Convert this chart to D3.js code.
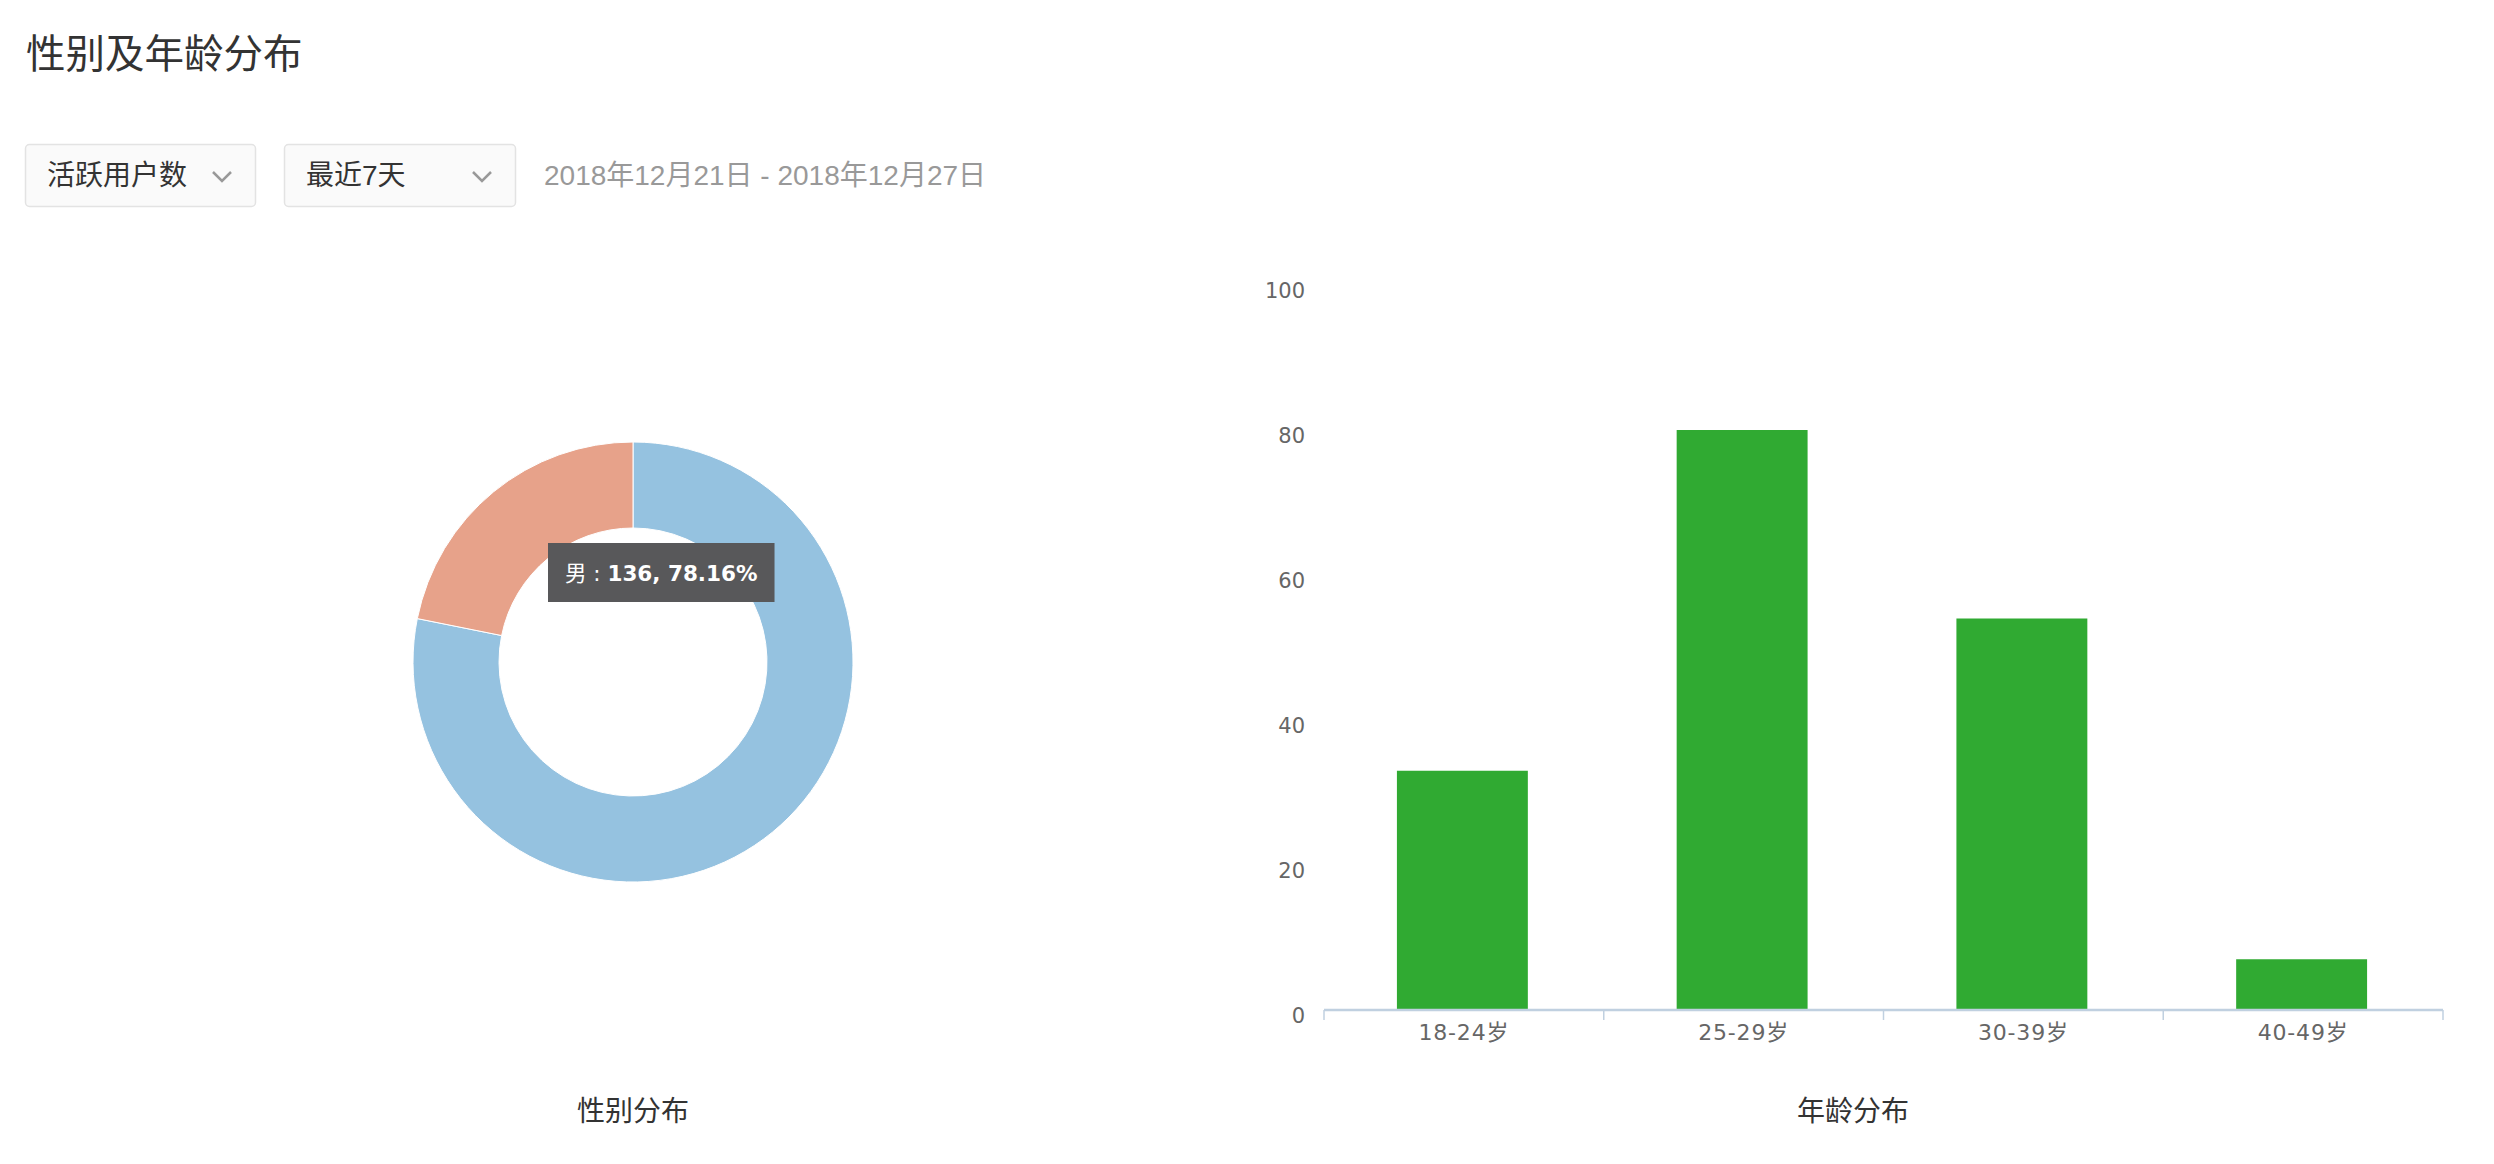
<!DOCTYPE html>
<html>
<head>
<meta charset="utf-8">
<script src="https://cdn.jsdelivr.net/npm/d3@7"></script>
<style>
  html, body { margin: 0; padding: 0; background: #ffffff; }
  svg { display: block; }
</style>
</head>
<body>
<svg id="chart" width="2494" height="1164"></svg>
<script>
// ---- data ----
const pageTitle = "性别及年龄分布";
const metricOptions = ["活跃用户数"];
const periodOptions = ["最近7天"];
const dateRange = "2018年12月21日 - 2018年12月27日";

const genderCategories = ["男", "女"];
const genderValues = [136, 38];
const genderTitle = "性别分布";

const ageCategories = ["18-24岁", "25-29岁", "30-39岁", "40-49岁"];
const ageValues = [33, 80, 54, 7];
const ageTicks = [0, 20, 40, 60, 80, 100];
const ageTitle = "年龄分布";

// ---- setup ----
const svg = d3.select("#chart");
const cjk = "'Noto Sans CJK SC', 'Noto Sans', sans-serif";
const latinCjk = "'Liberation Sans', 'Noto Sans CJK SC', sans-serif";
const axisFont = "'DejaVu Sans', 'Noto Sans CJK SC', sans-serif";

// header
svg.append("text")
  .attr("x", 26).attr("y", 50)
  .attr("dominant-baseline", "central")
  .attr("font-family", cjk).attr("font-size", 39.5)
  .attr("fill", "#333")
  .text(pageTitle);

function dropdown(x, w, label) {
  const g = svg.append("g").attr("transform", `translate(${x},144)`);
  g.append("rect").attr("x", 0.5).attr("y", 0.5).attr("width", w).attr("height", 62)
    .attr("rx", 4).attr("fill", "#fafafa").attr("stroke", "#e3e3e3").attr("stroke-width", 1.5);
  g.append("text").attr("x", 22).attr("y", 31).attr("dominant-baseline", "central")
    .attr("font-family", latinCjk).attr("font-size", 28).attr("fill", "#333").text(label);
  g.append("path").attr("d", `M${w - 42},${28} L${w - 33},${37} L${w - 24},${28}`)
    .attr("fill", "none").attr("stroke", "#999").attr("stroke-width", 2.5);
}
dropdown(25, 230, metricOptions[0]);
dropdown(284, 231, periodOptions[0]);

svg.append("text")
  .attr("x", 544).attr("y", 175)
  .attr("dominant-baseline", "central")
  .attr("font-family", latinCjk).attr("font-size", 28)
  .attr("fill", "#999")
  .text(dateRange);

// ---- donut ----
const pieCx = 633, pieCy = 662, outerR = 220, innerR = 134;
const pieColors = d3.scaleOrdinal().domain(genderCategories).range(["#95c2e0", "#e7a28a"]);
const pie = d3.pie().sort(null).value(d => d.v).startAngle(0).endAngle(2 * Math.PI);
const arcs = pie(genderCategories.map((c, i) => ({ c, v: genderValues[i] })));
const arc = d3.arc().innerRadius(innerR).outerRadius(outerR);
const pieG = svg.append("g").attr("transform", `translate(${pieCx},${pieCy})`);
pieG.selectAll("path").data(arcs).join("path")
  .attr("d", arc)
  .attr("fill", d => pieColors(d.data.c))
  .attr("stroke", "#ffffff").attr("stroke-width", 1);

svg.append("text")
  .attr("x", pieCx).attr("y", 1109)
  .attr("text-anchor", "middle").attr("dominant-baseline", "central")
  .attr("font-family", cjk).attr("font-size", 28).attr("fill", "#333")
  .text(genderTitle);

// tooltip
const total = d3.sum(genderValues);
const tip = svg.append("g").attr("transform", `translate(${pieCx - 85},${pieCy - 119})`);
const tipRect = tip.append("rect").attr("fill", "#58585a").attr("height", 59);
const tipText = tip.append("text").attr("x", 17).attr("y", 30)
  .attr("dominant-baseline", "central")
  .attr("font-family", axisFont).attr("font-size", 21.5).attr("fill", "#ffffff");
tipText.append("tspan").text(genderCategories[0] + " : ");
tipText.append("tspan").attr("font-weight", "bold")
  .text(`${genderValues[0]}, ${(genderValues[0] / total * 100).toFixed(2)}%`);
const tw = tipText.node().getComputedTextLength();
tipRect.attr("width", tw + 34);

// ---- bar chart ----
const plotLeft = 1324, plotRight = 2443, plotTop = 285, plotBottom = 1010;
const x = d3.scaleBand().domain(ageCategories).range([plotLeft, plotRight]).padding(0);
const y = d3.scaleLinear().domain([0, 100]).range([plotBottom, plotTop]);
const barW = x.bandwidth() * 0.468;

svg.append("g").selectAll("rect").data(ageCategories).join("rect")
  .attr("x", d => x(d) + (x.bandwidth() - barW) / 2 - 1.5)
  .attr("width", barW)
  .attr("y", (d, i) => y(ageValues[i]))
  .attr("height", (d, i) => y(0) - y(ageValues[i]))
  .attr("fill", "#30aa32");

// y axis labels
const yAxis = d3.axisLeft(y).tickValues(ageTicks).tickSize(0).tickPadding(19);
const yg = svg.append("g").attr("transform", `translate(${plotLeft},0)`).call(yAxis);
yg.select(".domain").remove();
yg.selectAll("text").attr("font-family", axisFont).attr("font-size", 21)
  .attr("fill", "#666").attr("dy", "0.6em");

// x axis
const xAxis = d3.axisBottom(x).tickSize(0).tickPadding(14);
const xg = svg.append("g").attr("transform", `translate(0,${plotBottom})`).call(xAxis);
xg.select(".domain").attr("stroke", "#c0d0e0").attr("stroke-width", 2.5)
  .attr("d", `M${plotLeft},0H${plotRight}`);
xg.selectAll("text").attr("font-family", axisFont).attr("font-size", 22)
  .attr("letter-spacing", "0.8px").attr("fill", "#666");
const boundaries = ageCategories.map(c => x(c)).concat([x(ageCategories[ageCategories.length - 1]) + x.bandwidth()]);
xg.selectAll(".bound").data(boundaries).join("line").attr("class", "bound")
  .attr("x1", d => d).attr("x2", d => d).attr("y1", 0).attr("y2", 10)
  .attr("stroke", "#c0d0e0").attr("stroke-width", 1.5);

svg.append("text")
  .attr("x", 1853).attr("y", 1109)
  .attr("text-anchor", "middle").attr("dominant-baseline", "central")
  .attr("font-family", cjk).attr("font-size", 28).attr("fill", "#333")
  .text(ageTitle);
</script>
</body>
</html>
